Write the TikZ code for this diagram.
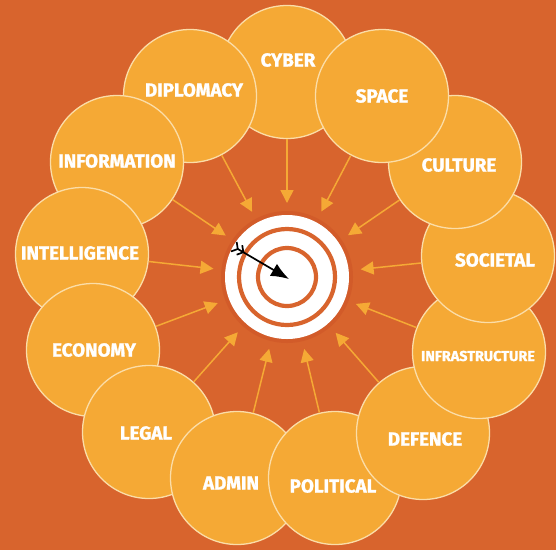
\documentclass[tikz,border=0pt]{standalone}
\usepackage{fontspec}
\newfontfamily\labfont{Fira Sans}[BoldFeatures={FakeBold=1.4}]
\usetikzlibrary{arrows.meta,calc}
\definecolor{bg}{HTML}{D8642D}
\definecolor{disc}{HTML}{F5A935}
\definecolor{rim}{HTML}{FBDDA8}
\definecolor{halo}{HTML}{D25B29}
\begin{document}
\begin{tikzpicture}[x=1pt,y=-1pt,
  bubble/.style={circle,fill=disc,draw=rim,line width=1.3pt,minimum size=133pt,inner sep=0pt},
  lbl/.style={text=white,font=\labfont\bfseries\fontsize{18.8}{19}\selectfont,inner sep=0pt},
  smalllbl/.style={text=white,font=\labfont\bfseries\fontsize{14.4}{15}\selectfont,inner sep=0pt},
  feed/.style={draw=disc,line width=1.5pt,-{Triangle[length=13pt,width=13pt]}},
  ring/.style={draw=bg,line width=4.2pt},
]
\fill[bg] (0,0) rectangle (556,550);
\useasboundingbox (0,0) rectangle (556,550);
% target
\node[circle,fill=halo,minimum size=132pt,inner sep=0pt] (T) at (287,277) {};
\fill[white] (T.center) circle (62);
\draw[ring] (T.center) circle (48);
\draw[ring] (T.center) circle (29);
% bubbles (stacking order)
\node[bubble] (c0) at (287,72) {};
\node[bubble] (c1) at (190,96) {};
\node[bubble] (c2) at (117,162) {};
\node[bubble] (c3) at (82,254) {};
\node[bubble] (c4) at (93,350) {};
\node[bubble] (c5) at (149,432) {};
\node[bubble] (c6) at (237,478) {};
\node[bubble] (c7) at (335,478) {};
\node[bubble] (c8) at (423,433) {};
\node[bubble] (c9) at (479,352) {};
\node[bubble] (c10) at (488,256) {};
\node[bubble] (c11) at (455,162) {};
\node[bubble] (c12) at (382,96) {};
% feeding arrows
\foreach \k in {0,...,12}{
  \draw[feed] (c\k) -- ($(T.center)!74pt!(c\k)$);
}
% labels
\node[lbl] (l0) at (288,60) {CYBER};
\node[lbl] (l1) at (194,90) {DIPLOMACY};
\node[lbl] (l2) at (117,161) {INFORMATION};
\node[lbl] (l3) at (80,253) {INTELLIGENCE};
\node[lbl] (l4) at (94,350) {ECONOMY};
\node[lbl] (l5) at (146,433) {LEGAL};
\node[lbl] (l6) at (231,483) {ADMIN};
\node[lbl] (l7) at (333,486) {POLITICAL};
\node[lbl] (l8) at (425,439) {DEFENCE};
\node[smalllbl] (l9) at (478,356) {INFRASTRUCTURE};
\node[lbl] (l10) at (495,260) {SOCIETAL};
\node[lbl] (l11) at (459,165) {CULTURE};
\node[lbl] (l12) at (382,96) {SPACE};
% black arrow in the bullseye
\coordinate (atail) at (231,245);
\coordinate (atip) at (289,279);
\draw[line width=1.7pt,{Straight Barb[reversed,length=4.5pt,width=11pt,sep=2.5pt]Straight Barb[reversed,length=4.5pt,width=11pt]}-{Latex[length=18pt,width=14pt]}] (atail) -- (atip);
\end{tikzpicture}
\end{document}
